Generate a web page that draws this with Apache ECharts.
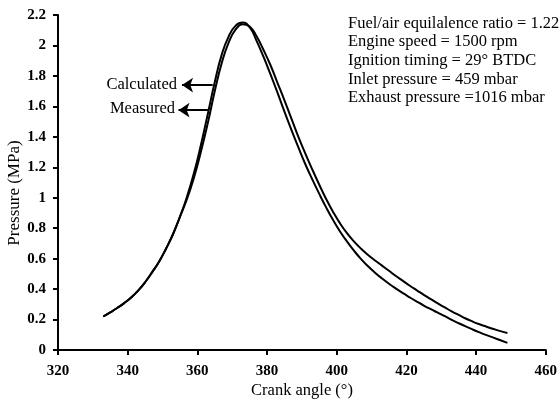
<!doctype html>
<html>
    <head>
        <meta charset="utf-8">
        <title>Cylinder pressure vs crank angle</title>
        <style>
            html, body { margin: 0; padding: 0; background: #fff; }
            #main { width: 560px; height: 407px; }
        </style>
    </head>
    <body>
        <div id="main"></div>
        <script src="https://cdn.jsdelivr.net/npm/echarts@6/dist/echarts.min.js"></script>
        <script>

            // crank angle (deg), every 2 degrees
            var angle = [333, 335, 337, 339, 341, 343, 345, 347, 349, 351, 353, 355, 357, 359, 361, 363, 365, 367, 369, 371,
                         373, 375, 377, 379, 381, 383, 385, 387, 389, 391, 393, 395, 397, 399, 401, 403, 405, 407, 409, 411,
                         413, 415, 417, 419, 421, 423, 425, 427, 429, 431, 433, 435, 437, 439, 441, 443, 445, 447, 449];
            // pressure (MPa)
            var calcPress = [0.22, 0.247, 0.276, 0.308, 0.345, 0.39, 0.445, 0.51, 0.58, 0.665, 0.76, 0.875, 1.005, 1.16, 1.345, 1.55, 1.76, 1.94, 2.06, 2.13,
                             2.15, 2.12, 2.03, 1.925, 1.81, 1.69, 1.565, 1.445, 1.33, 1.22, 1.12, 1.025, 0.935, 0.852, 0.777, 0.711, 0.651, 0.597, 0.55, 0.508,
                             0.47, 0.435, 0.403, 0.373, 0.345, 0.318, 0.292, 0.268, 0.245, 0.222, 0.198, 0.176, 0.155, 0.135, 0.116, 0.098, 0.081, 0.064, 0.047];
            var measPress = [0.22, 0.247, 0.276, 0.308, 0.345, 0.39, 0.445, 0.51, 0.58, 0.665, 0.76, 0.875, 0.99, 1.13, 1.30, 1.49, 1.70, 1.885, 2.02, 2.105,
                             2.14, 2.125, 2.06, 1.97, 1.87, 1.755, 1.64, 1.52, 1.40, 1.29, 1.185, 1.085, 0.99, 0.905, 0.83, 0.766, 0.712, 0.665, 0.624, 0.588,
                             0.554, 0.52, 0.486, 0.454, 0.422, 0.392, 0.362, 0.334, 0.306, 0.28, 0.254, 0.23, 0.207, 0.187, 0.169, 0.153, 0.138, 0.124, 0.112];

            var conditions = [
                'Fuel/air equilalence ratio = 1.22',
                'Engine speed = 1500 rpm',
                'Ignition timing = 29° BTDC',
                'Inlet pressure = 459 mbar',
                'Exhaust pressure =1016 mbar'
            ];

            function pairs(xs, ys) {
                return xs.map(function (x, i) { return [x, ys[i]]; });
            }

            var serif = 'Liberation Serif';
            var myChart = echarts.init(document.getElementById('main'));

            var arrowLine = function (y, x0, x1) {
                return [{ coord: [x0, y] }, { coord: [x1, y] }];
            };

            var curve = {
                type: 'line',
                smooth: 0.5,
                showSymbol: false,
                lineStyle: { color: '#000', width: 2 }
            };

            var option = {
                animation: false,
                grid: { left: 58, right: 11, top: 15, bottom: 57 },
                xAxis: {
                    type: 'value',
                    min: 320, max: 460, interval: 20,
                    axisLine: { lineStyle: { color: '#000', width: 2 } },
                    axisTick: { length: 5, lineStyle: { color: '#000', width: 2 } },
                    axisLabel: { fontFamily: serif, fontSize: 15, fontWeight: 'bold', color: '#000', margin: 14 },
                    splitLine: { show: false }
                },
                yAxis: {
                    type: 'value',
                    min: 0, max: 2.2, interval: 0.2,
                    axisLine: { show: true, lineStyle: { color: '#000', width: 2 } },
                    axisTick: { show: true, length: 5, lineStyle: { color: '#000', width: 2 } },
                    axisLabel: { fontFamily: serif, fontSize: 15, fontWeight: 'bold', color: '#000', margin: 12 },
                    splitLine: { show: false }
                },
                series: [Object.assign({}, curve, {
                    name: 'Calculated',
                    data: pairs(angle, calcPress),
                    markLine: {
                        silent: true,
                        symbol: ['arrow', 'none'],
                        symbolSize: 11,
                        label: { show: false },
                        lineStyle: { color: '#000', width: 2, type: 'solid' },
                        data: [arrowLine(1.74, 355.6, 364.4), arrowLine(1.575, 354.6, 363.2)]
                    }
                }), Object.assign({}, curve, {
                    name: 'Measured',
                    data: pairs(angle, measPress)
                })],
                graphic: [{
                    type: 'text',
                    x: 177, y: 85,
                    style: { text: 'Calculated', font: '16.5px ' + serif, fill: '#000', align: 'right', verticalAlign: 'middle' }
                }, {
                    type: 'text',
                    x: 175, y: 109,
                    style: { text: 'Measured', font: '16.5px ' + serif, fill: '#000', align: 'right', verticalAlign: 'middle' }
                }, {
                    type: 'text',
                    x: 348, y: 14,
                    style: { text: conditions.join('\n'), font: '16.5px ' + serif, lineHeight: 18.7, fill: '#000', align: 'left', verticalAlign: 'top' }
                }, {
                    type: 'text',
                    x: 302, y: 391,
                    style: { text: 'Crank angle (°)', font: '16.5px ' + serif, fill: '#000', align: 'center', verticalAlign: 'middle' }
                }, {
                    type: 'text',
                    x: 15, y: 193,
                    rotation: Math.PI / 2,
                    style: { text: 'Pressure (MPa)', font: '17px ' + serif, fill: '#000', align: 'center', verticalAlign: 'middle' }
                }]
            };

            myChart.setOption(option);

        </script>
    </body>
</html>
